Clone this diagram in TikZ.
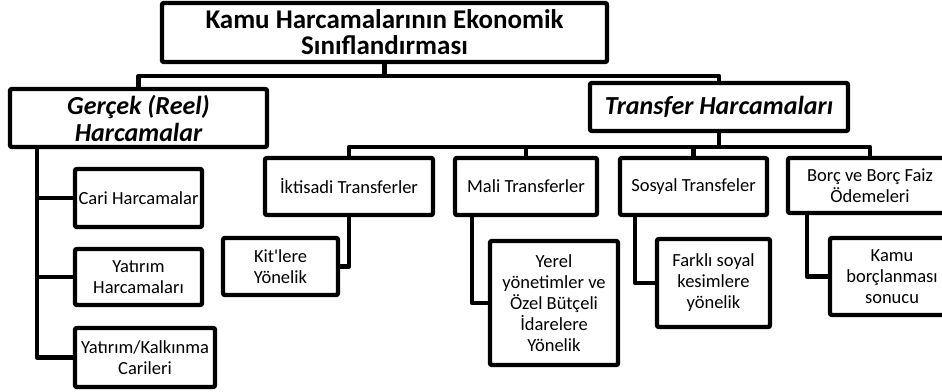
\documentclass[tikz,border=0pt]{standalone}
\usepackage{fontspec}
\setmainfont{Carlito}
\begin{document}
\begin{tikzpicture}[x=1pt,y=-1pt,
  box/.style={draw=black,line width=4.4pt,rounded corners=2pt,fill=white,inner sep=0pt,align=center,font=\fontsize{18.5}{21}\selectfont},
  bigbox/.style={box,font=\fontsize{27}{26}\selectfont\bfseries},
  itbox/.style={box,font=\fontsize{26}{27}\selectfont\bfseries\itshape},
  conn/.style={draw=black,line width=4.4pt,line join=round}]
\useasboundingbox (0,0) rectangle (942,391);
\clip (0,0) rectangle (942,391);
% nodes
\node[bigbox,minimum width=445pt,minimum height=59pt] (top) at (384.5,32.5) {Kamu Harcamalarının Ekonomik\\Sınıflandırması};
\node[itbox,minimum width=257pt,minimum height=58pt] (gercek) at (138.5,118) {Gerçek (Reel)\\Harcamalar};
\node[itbox,minimum width=258pt,minimum height=48pt] (transfer) at (719,107) {Transfer Harcamaları};
\node[box,minimum width=168pt,minimum height=57pt] (iktisadi) at (349,186.5) {İktisadi Transferler};
\node[box,minimum width=142pt,minimum height=57pt] (mali) at (526,186.5) {Mali Transferler};
\node[box,minimum width=147pt,minimum height=57pt] (sosyal) at (693.5,186.5) {Sosyal Transfeler};
\node[box,minimum width=164pt,minimum height=55pt] (borc) at (870,185.5) {Borç ve Borç Faiz\\Ödemeleri};
\node[box,minimum width=127pt,minimum height=58pt] (cari) at (138.5,198) {Cari Harcamalar};
\node[box,minimum width=127pt,minimum height=56pt] (yatirim) at (138.5,277) {Yatırım\\Harcamaları};
\node[box,minimum width=140pt,minimum height=59pt] (yk) at (145,357.5) {Yatırım/Kalkınma\\Carileri};
\node[box,minimum width=115pt,minimum height=57pt] (kit) at (280.5,266.5) {Kit\textquotesingle lere\\Yönelik};
\node[box,minimum width=128pt,minimum height=124pt] (yerel) at (554,303) {Yerel\\yönetimler ve\\Özel Bütçeli\\İdarelere\\Yönelik};
\node[box,minimum width=113pt,minimum height=88pt] (farkli) at (713.5,283) {Farklı soyal\\kesimlere\\yönelik};
\node[box,minimum width=124pt,minimum height=77pt] (kamu) at (892,276.5) {Kamu\\borçlanması\\sonucu};
% helper coordinates
\coordinate (h1) at (0,76);
\coordinate (h2) at (0,147);
\coordinate (gx) at (37,147);
\coordinate (mx) at (472,0);
\coordinate (sx) at (635,0);
\coordinate (bx) at (807,0);
% connectors
\draw[conn] (gercek.north) |- (top.south |- h1) -- (top.south);
\draw[conn] (transfer.north) |- (top.south |- h1);
\draw[conn] (transfer.south) -- (transfer.south |- h2);
\draw[conn] (iktisadi.north) |- (borc.north |- h2) -- (borc.north);
\draw[conn] (mali.north) -- (mali.north |- h2);
\draw[conn] (sosyal.north) -- (sosyal.north |- h2);
\draw[conn] (gx) |- (yk.west);
\draw[conn] (gx |- cari.west) -- (cari.west);
\draw[conn] (gx |- yatirim.west) -- (yatirim.west);
\draw[conn] (iktisadi.south) |- (kit.east);
\draw[conn] (mali.south -| mx) |- (yerel.west);
\draw[conn] (sosyal.south -| sx) |- (farkli.west);
\draw[conn] (borc.south -| bx) |- (kamu.west);
\end{tikzpicture}
\end{document}
